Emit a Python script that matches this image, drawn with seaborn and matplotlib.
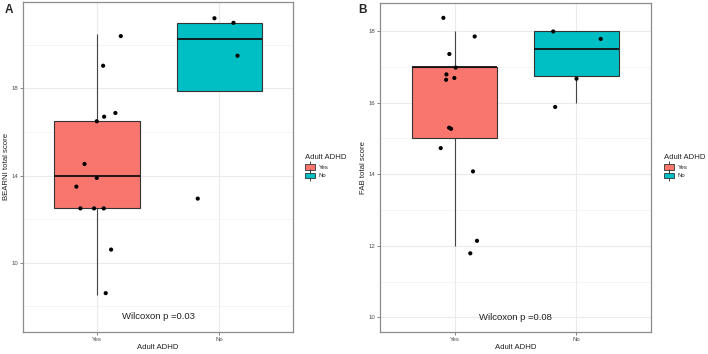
import numpy as np
import pandas as pd
import matplotlib
matplotlib.use("Agg")
import matplotlib.pyplot as plt
from matplotlib.patches import Patch
from matplotlib.lines import Line2D
from matplotlib.legend_handler import HandlerTuple
from matplotlib.ticker import FixedLocator
import seaborn as sns

# ---------------- data ----------------
groups = ["Yes", "No"]
palette = {"Yes": "#F8766D", "No": "#00BFC4"}

# Panel A: BEARNI total score (values used for the box statistics)
bearni_yes = [20.5, 19, 17, 16.5, 16.5, 14.5, 14, 13.5, 12.5, 12.5, 12.5, 10.5, 8.5]
bearni_no = [21, 21, 19.5, 13]
# jittered points as shown
bearni_yes_pts = [20.4, 19.04, 16.87, 16.70, 16.49, 14.53, 13.89, 13.49, 12.49, 12.49, 12.49, 10.60, 8.60]
bearni_yes_dx = [0.196, 0.052, 0.152, 0.060, 0.0, -0.100, 0.0, -0.166, -0.133, -0.022, 0.057, 0.117, 0.073]
bearni_no_pts = [21.22, 21.01, 19.50, 12.94]
bearni_no_dx = [-0.041, 0.114, 0.147, -0.177]

# Panel B: FAB total score
fab_yes = [18, 18, 17, 17, 17, 17, 17, 15, 15, 15, 14, 12, 12]
fab_no = [18, 18, 17, 16]
fab_yes_pts = [18.37, 17.85, 17.36, 16.98, 16.79, 16.69, 16.64, 15.30, 15.27, 14.73, 14.08, 12.14, 11.79]
fab_yes_dx = [-0.093, 0.164, -0.044, 0.008, -0.068, -0.003, -0.071, -0.046, -0.030, -0.115, 0.150, 0.183, 0.128]
fab_no_pts = [17.99, 17.78, 16.67, 15.88]
fab_no_dx = [-0.191, 0.199, 0.0, -0.175]

p_texts = ["Wilcoxon p =0.03", "Wilcoxon p =0.08"]
y_labels = ["BEARNI total score", "FAB total score"]

sns.set_theme(style="white")
plt.rcParams["font.family"] = ["Liberation Sans", "DejaVu Sans"]

fig = plt.figure(figsize=(7.08, 3.54), dpi=100)
axA = fig.add_axes([0.033, 0.063, 0.381, 0.931])
axB = fig.add_axes([0.537, 0.063, 0.383, 0.928])


def make_frames(yes_vals, no_vals, yes_pts, yes_dx, no_pts, no_dx):
    box_df = pd.DataFrame({
        "group": ["Yes"] * len(yes_vals) + ["No"] * len(no_vals),
        "score": list(yes_vals) + list(no_vals),
    })
    pt_df = pd.DataFrame({
        "xpos": [0 + d for d in yes_dx] + [1 + d for d in no_dx],
        "score": list(yes_pts) + list(no_pts),
    })
    return box_df, pt_df


def draw_panel(ax, box_df, pt_df, xlim, ylim, major, minor, ylabel, ptxt, ptxt_y):
    ax.set_axisbelow(True)
    sns.boxplot(data=box_df, x="group", y="score", hue="group", order=groups,
                hue_order=groups, palette=palette, width=0.7, showfliers=False,
                linecolor="#333333", linewidth=0.8, saturation=1, legend=False,
                medianprops=dict(linewidth=1.3, color="#111111"),
                whiskerprops=dict(color="#444444"), capprops=dict(linewidth=0),
                ax=ax)
    sns.scatterplot(data=pt_df, x="xpos", y="score", color="black", s=9,
                    edgecolor="none", ax=ax, zorder=5)
    ax.set_xlim(*xlim)
    ax.set_ylim(*ylim)
    ax.yaxis.set_major_locator(FixedLocator(major))
    ax.yaxis.set_minor_locator(FixedLocator(minor))
    ax.set_xticks([0, 1])
    ax.set_xticklabels(groups)
    ax.grid(True, which="major", color="#EBEBEB", linewidth=0.8)
    ax.grid(True, which="minor", axis="y", color="#F2F2F2", linewidth=0.5)
    for s in ax.spines.values():
        s.set_color("#8C8C8C")
        s.set_linewidth(0.9)
    ax.tick_params(axis="both", which="major", length=2, width=0.5,
                   color="#555555", labelsize=4.3, labelcolor="#4D4D4D", pad=1.5)
    ax.tick_params(axis="both", which="minor", length=0)
    ax.tick_params(bottom=True, left=True)
    ax.set_xlabel("Adult ADHD", fontsize=5.6, color="#222222", labelpad=1.5)
    ax.set_ylabel(ylabel, fontsize=5.6, color="#222222", labelpad=1.5)
    ax.text(0.5, ptxt_y, ptxt, ha="center", va="center", fontsize=6.8,
            color="#222222")


boxA, ptA = make_frames(bearni_yes, bearni_no, bearni_yes_pts, bearni_yes_dx,
                        bearni_no_pts, bearni_no_dx)
boxB, ptB = make_frames(fab_yes, fab_no, fab_yes_pts, fab_yes_dx,
                        fab_no_pts, fab_no_dx)

draw_panel(axA, boxA, ptA, (-0.598, 1.60), (6.83, 21.96), [10, 14, 18],
           [8, 12, 16, 20], y_labels[0], p_texts[0], 7.52)
draw_panel(axB, boxB, ptB, (-0.612, 1.615), (9.60, 18.78), [10, 12, 14, 16, 18],
           [11, 13, 15, 17], y_labels[1], p_texts[1], 10.0)

handles = [(Line2D([], [], color="#333333", marker="|", markersize=8,
                   markeredgewidth=0.6, linestyle="none"),
            Patch(facecolor=palette[g], edgecolor="#333333", linewidth=0.6))
           for g in groups]
for xleg in (0.428, 0.935):
    leg = fig.legend(handles, groups, title="Adult ADHD", loc="center left",
                     bbox_to_anchor=(xleg, 0.53), frameon=False, fontsize=4.3,
                     title_fontsize=5.6, handlelength=1.6, handleheight=1.0,
                     handletextpad=0.6, labelspacing=0.45, borderaxespad=0,
                     handler_map={tuple: HandlerTuple(ndivide=1, pad=0)})
    leg._legend_box.align = "left"

fig.text(0.006, 0.988, "A", ha="left", va="top", fontsize=8.5, fontweight="bold")
fig.text(0.506, 0.988, "B", ha="left", va="top", fontsize=8.5, fontweight="bold")

fig.savefig("out.png", dpi=100)
